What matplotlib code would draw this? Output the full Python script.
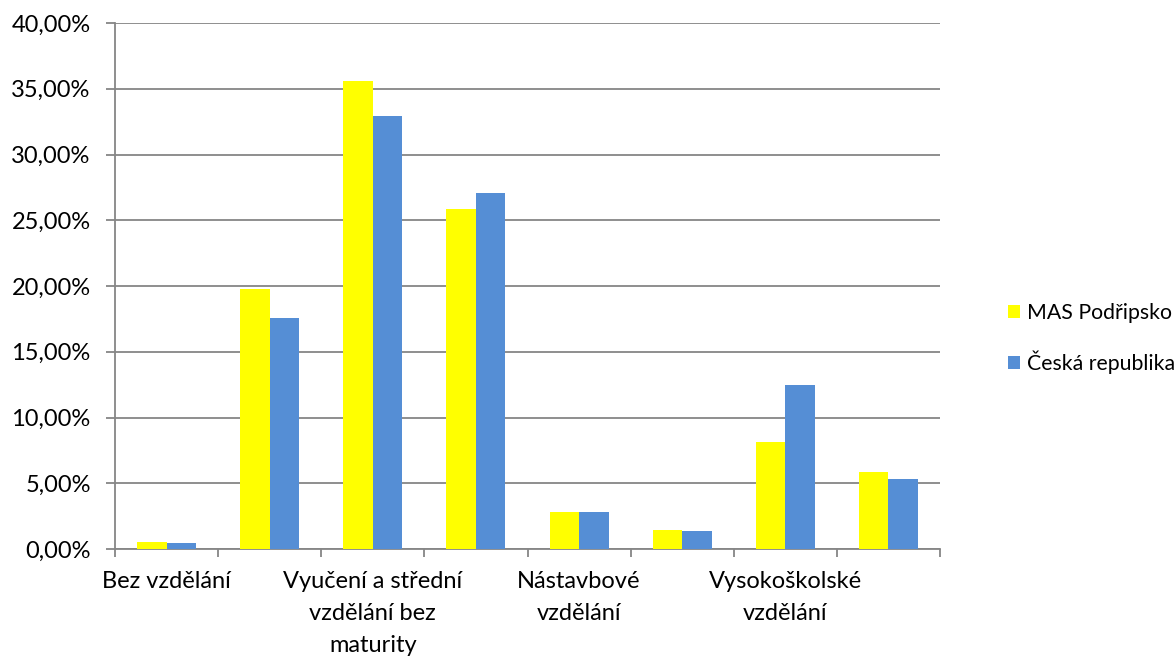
import numpy as np
import matplotlib
matplotlib.use("Agg")
import matplotlib.pyplot as plt
from matplotlib.ticker import FuncFormatter

# data
categories = ["Bez vzdělání",
              "Základní vzdělání vč. neukončeného",
              "Vyučení a střední vzdělání bez maturity",
              "Úplné střední vzdělání s maturitou",
              "Nástavbové vzdělání",
              "Vyšší odborné vzdělání",
              "Vysokoškolské vzdělání",
              "Nezjištěno"]
# only every second label is shown (as Excel did)
tick_labels = ["Bez vzdělání", "",
               "Vyučení a střední\nvzdělání bez\nmaturity", "",
               "Nástavbové\nvzdělání", "",
               "Vysokoškolské\nvzdělání", ""]
mas = [0.53, 19.80, 35.58, 25.87, 2.79, 1.42, 8.11, 5.86]
cr = [0.47, 17.55, 32.94, 27.09, 2.79, 1.35, 12.45, 5.32]
series_names = ["MAS Podřipsko", "Česká republika"]

plt.rcParams["font.family"] = ["Lato", "DejaVu Sans"]
fs = 17

fig = plt.figure(figsize=(11.76, 6.57), dpi=100)
ax = fig.add_axes([115 / 1176, 108 / 657, 825 / 1176, 526 / 657])

x = np.arange(len(categories))
w = 1 / 3.5
ax.bar(x - w / 2, mas, w, color="#FFFF00", label=series_names[0], zorder=3)
ax.bar(x + w / 2, cr, w, color="#558ED5", label=series_names[1], zorder=3)

ax.set_xlim(-0.5, len(categories) - 0.5)
ax.set_ylim(0, 40)
ax.set_yticks(np.arange(0, 41, 5))
ax.yaxis.set_major_formatter(FuncFormatter(lambda v, p: f"{v:.2f}%".replace(".", ",")))
ax.grid(axis="y", color="#868686", linewidth=1.3, zorder=0)

# category boundaries as tick marks, labels in the middle
ax.set_xticks(np.arange(-0.5, len(categories), 1), minor=False)
ax.set_xticklabels([])
ax.set_xticks(x, minor=True)
ax.set_xticklabels(tick_labels, minor=True, fontsize=fs, linespacing=1.65)
ax.tick_params(axis="x", which="minor", length=0, pad=16)
ax.tick_params(axis="x", which="major", length=6, color="#868686", width=1.3)
ax.tick_params(axis="y", length=6.5, color="#868686", width=1.3, labelsize=fs, pad=11)

for s in ["top", "right"]:
    ax.spines[s].set_visible(False)
for s in ["left", "bottom"]:
    ax.spines[s].set_color("#868686")
    ax.spines[s].set_linewidth(1.3)

ax.legend(loc="center left", bbox_to_anchor=(1.069, 0.40), frameon=False,
          fontsize=15.3, handlelength=0.6, handleheight=0.6,
          handletextpad=0.3, labelspacing=1.3, borderpad=0)

plt.savefig("out.png", dpi=100)
